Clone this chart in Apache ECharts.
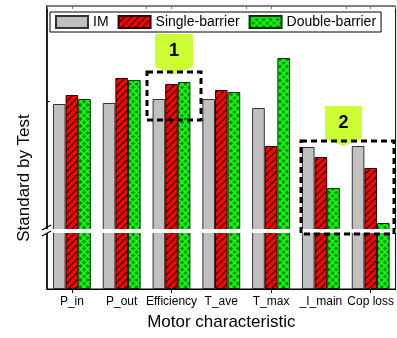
<!DOCTYPE html>
<html>
<head>
<meta charset="utf-8">
<script src="https://cdn.jsdelivr.net/npm/echarts@6/dist/echarts.min.js"></script>
<style>
html,body{margin:0;padding:0;background:#fff;}
#chart{width:397px;height:338px;}
</style>
</head>
<body>
<div id="chart"></div>
<script>
// ---- data (heights, arbitrary "standard by test" units) ----
const categories = ['P_in', 'P_out', 'Efficiency', 'T_ave', 'T_max', '_I_main', 'Cop loss'];
const seriesNames = ['IM', 'Single-barrier', 'Double-barrier'];
const imValues = [185, 186, 190, 190, 181, 142, 143];
const singleValues = [194, 211, 205, 199, 143, 132, 121];
const doubleValues = [190, 209, 207, 197, 231, 101, 66];
const yTickValues = [188];
const breakValue = 58;
const yMax = 283;

const FONT = "'Liberation Sans', Arial, sans-serif";

function makeHatch() {
  const s = 7;
  const c = document.createElement('canvas');
  c.width = s; c.height = s;
  const g = c.getContext('2d');
  g.fillStyle = '#ff0000';
  g.fillRect(0, 0, s, s);
  g.strokeStyle = '#000';
  g.lineWidth = 1.1;
  g.beginPath();
  g.moveTo(-1, 1); g.lineTo(1, -1);
  g.moveTo(0, s); g.lineTo(s, 0);
  g.moveTo(s - 1, s + 1); g.lineTo(s + 1, s - 1);
  g.stroke();
  return c;
}
function makeCross() {
  const s = 7;
  const c = document.createElement('canvas');
  c.width = s; c.height = s;
  const g = c.getContext('2d');
  g.fillStyle = '#008f00';
  g.fillRect(0, 0, s, s);
  g.strokeStyle = '#11ff11';
  g.lineWidth = 1.7;
  g.beginPath();
  g.moveTo(0, 0); g.lineTo(s, s);
  g.moveTo(0, s); g.lineTo(s, 0);
  g.moveTo(-1, 1); g.lineTo(1, -1);
  g.moveTo(s - 1, s + 1); g.lineTo(s + 1, s - 1);
  g.moveTo(-1, s - 1); g.lineTo(1, s + 1);
  g.moveTo(s - 1, -1); g.lineTo(s + 1, 1);
  g.stroke();
  return c;
}

const chart = echarts.init(document.getElementById('chart'), null, {renderer: 'canvas'});

const hiddenCat = (pos, inside, align) => ({
  type: 'category', data: categories, position: pos,
  axisLine: {show: false},
  axisTick: {show: true, inside: inside, alignWithLabel: align, length: inside ? 3 : 4,
    lineStyle: {color: inside ? '#777' : '#000', width: 1}},
  axisLabel: {show: false},
  splitLine: {show: false}
});

const option = {
  animation: false,
  backgroundColor: '#fff',
  textStyle: {fontFamily: FONT},
  grid: {left: 47, right: 1, top: 6, bottom: 49, show: true, borderColor: '#000', borderWidth: 1, backgroundColor: 'transparent'},
  legend: {
    left: 50, top: 12,
    padding: [3, 5, 3, 5],
    icon: 'rect',
    itemGap: 9, itemWidth: 32, itemHeight: 12,
    backgroundColor: '#fff', borderColor: '#000', borderWidth: 1,
    textStyle: {fontSize: 14, color: '#000', fontFamily: FONT},
    data: seriesNames
  },
  xAxis: [
    {
      type: 'category', data: categories, position: 'bottom',
      axisLine: {lineStyle: {color: '#000', width: 1}},
      axisTick: {length: 4, lineStyle: {color: '#000'}},
      axisLabel: {fontSize: 12, color: '#000', margin: 7, fontFamily: FONT, interval: 0},
      name: 'Motor characteristic', nameLocation: 'middle', nameGap: 25,
      nameTextStyle: {fontSize: 17, color: '#000', fontFamily: FONT}
    },
    hiddenCat('bottom', false, true),
    hiddenCat('top', true, false),
    hiddenCat('top', true, true)
  ],
  yAxis: {
    type: 'value', min: 0, max: yMax,
    axisLine: {show: true, lineStyle: {color: '#000', width: 1.5}},
    axisTick: {show: true, inside: true, length: 3, customValues: yTickValues, lineStyle: {color: '#000'}},
    axisLabel: {show: false},
    splitLine: {show: false}
  },
  series: [
    {name: seriesNames[0], type: 'bar', data: imValues, barGap: '0%', barCategoryGap: '24%',
      itemStyle: {color: '#c0c0c0', borderColor: '#333', borderWidth: 1}},
    {name: seriesNames[1], type: 'bar', data: singleValues, barGap: '0%', barCategoryGap: '24%',
      itemStyle: {color: {image: makeHatch(), repeat: 'repeat'}, borderColor: '#300', borderWidth: 1}},
    {name: seriesNames[2], type: 'bar', data: doubleValues, barGap: '0%', barCategoryGap: '24%',
      itemStyle: {color: {image: makeCross(), repeat: 'repeat'}, borderColor: '#003300', borderWidth: 1}}
  ]
};
chart.setOption(option);

// decorations: axis break strip, break marks, annotation boxes and callouts
const yb = chart.convertToPixel({yAxisIndex: 0}, breakValue);
const CALL = '#ccff33';
function callout(x1, x2, yTop, yBot, yTip, label) {
  const xm = (x1 + x2) / 2;
  return [
    {type: 'polygon', z: 100, shape: {points: [[x1, yTop], [x2, yTop], [x2, yBot], [xm, yTip], [x1, yBot]]},
      style: {fill: CALL}},
    {type: 'text', z: 101, x: xm, y: (yTop + yBot) / 2 + 1,
      style: {text: label, font: 'bold 18px ' + FONT, fill: '#000', align: 'center', verticalAlign: 'middle'}}
  ];
}
const dashed = (x, y, w, h) => ({type: 'rect', z: 102, shape: {x: x, y: y, width: w, height: h},
  style: {fill: 'none', stroke: '#000', lineWidth: 3, lineDash: [6, 4]}});

chart.setOption({
  graphic: [
    {type: 'rect', z: 90, shape: {x: 40, y: yb - 2, width: 357, height: 4}, style: {fill: '#fff'}},
    {type: 'line', z: 91, shape: {x1: 42, y1: yb - 1, x2: 51, y2: yb - 6}, style: {stroke: '#000', lineWidth: 1.2}},
    {type: 'line', z: 91, shape: {x1: 42, y1: yb + 5, x2: 51, y2: yb}, style: {stroke: '#000', lineWidth: 1.2}},
    dashed(147, 72, 54, 48),
    dashed(301, 141, 93, 93),
    ...callout(155, 193, 34, 67, 75, '1'),
    ...callout(325, 362, 106, 139, 146, '2'),
    {type: 'text', z: 100, x: 24, y: 178, rotation: Math.PI / 2,
      style: {text: 'Standard by Test', font: '17px ' + FONT, fill: '#000', align: 'center', verticalAlign: 'middle'}}
  ]
});
</script>
</body>
</html>
